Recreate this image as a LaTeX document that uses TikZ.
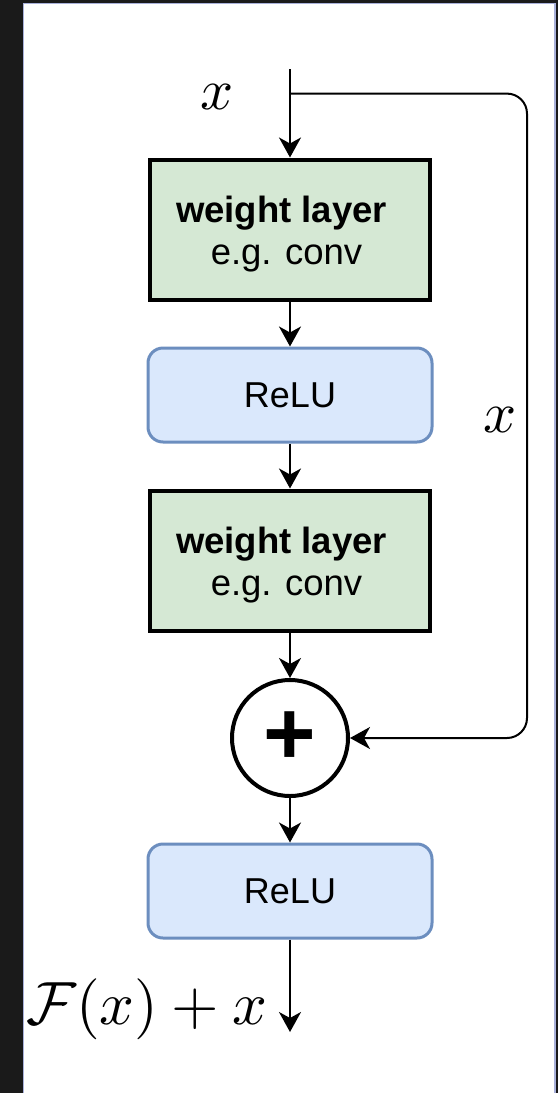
\RequirePackage{fix-cm}
\documentclass[tikz,border=0pt]{standalone}
\usepackage[no-math]{fontspec}
\setmainfont{Liberation Sans}
\usetikzlibrary{positioning,arrows.meta}
\DeclareFontShape{OML}{cmm}{m}{it}{<->cmmi10}{}
\DeclareFontShape{OMS}{cmsy}{m}{n}{<->cmsy10}{}
\DeclareFontShape{OT1}{cmr}{m}{n}{<->cmr10}{}
\definecolor{weightfill}{HTML}{D5E8D4}
\definecolor{relufill}{HTML}{DAE8FC}
\definecolor{reluline}{HTML}{6C8EBF}
\definecolor{pagebg}{HTML}{1A1A1A}
\definecolor{frameline}{HTML}{A9B1DA}

\begin{document}
\begin{tikzpicture}[x=1pt,y=-1pt,
  flow/.style={line width=2pt,-{Stealth[length=20pt,width=22pt,inset=6pt]}},
  weightbox/.style={draw,line width=4pt,fill=weightfill,minimum width=280pt,minimum height=140pt,align=center,font=\fontsize{36.5}{42}\selectfont},
  relubox/.style={draw=reluline,line width=3pt,fill=relufill,rounded corners=15pt,minimum width=284pt,minimum height=94pt,font=\fontsize{36}{42}\selectfont},
  addcirc/.style={circle,draw,line width=4pt,minimum size=116pt,inner sep=0pt,font=\fontsize{90}{90}\selectfont\bfseries},
  mathlbl/.style={inner sep=0pt,font=\fontsize{58}{60}\selectfont}]
\useasboundingbox (0,0) rectangle (558,1093);
\fill[pagebg] (0,0) rectangle (558,1093);
\filldraw[fill=white,draw=frameline,line width=1.5pt] (23.5,3.5) rectangle (555,1100);
% blocks
\node[weightbox] (wl1) at (290,229.5) {\rule{0pt}{36pt}\textbf{weight layer}\hspace*{17pt}\\e.g. conv\hspace*{7pt}};
\node[relubox] (relu1) at (290,395) {ReLU};
\node[weightbox] (wl2) at (290,560.5) {\rule{0pt}{36pt}\textbf{weight layer}\hspace*{17pt}\\e.g. conv\hspace*{7pt}};
\node[addcirc] (add) at (290,738) {+};
\node[relubox] (relu2) at (290,891) {ReLU};
\coordinate (in) at (290,69); \coordinate (split) at (290,93.6);
\coordinate (skip) at (527,420); \coordinate (out) at (290,1032);
% labels
\node[mathlbl] (xin) at (217,97) {$x$};
\node[mathlbl,anchor=east] (xskip) at ([xshift=-10pt]skip) {$x$};
\node[mathlbl,anchor=east,font=\fontsize{61}{62}\selectfont] (xout) at ([xshift=-22pt,yshift=23pt]out) {$\mathcal{F}(x)+x$};
% connectors
\draw[flow] (in) -- (wl1);
\draw[flow] (wl1) -- (relu1);
\draw[flow] (relu1) -- (wl2);
\draw[flow] (wl2) -- (add);
\draw[flow] (add) -- (relu2);
\draw[flow] (relu2) -- (out);
\draw[flow,rounded corners=20pt] (split) -| (skip) |- (add);
\end{tikzpicture}
\end{document}
